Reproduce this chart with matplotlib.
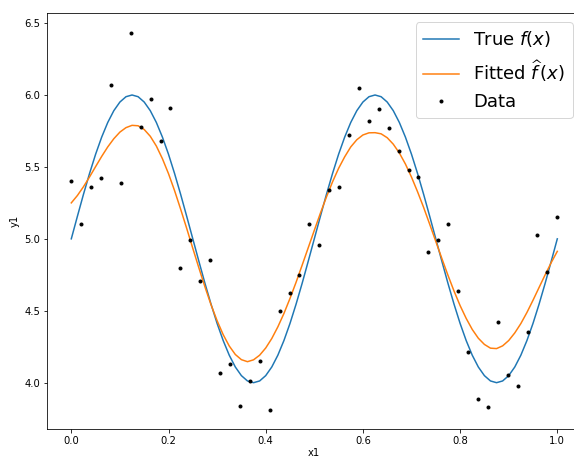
import numpy as np
import matplotlib
matplotlib.use("Agg")
import matplotlib.pyplot as plt

# Observed data points (x evenly spaced on [0, 1])
data_x = np.linspace(0, 1, 50)
data_y = [5.40, 5.10, 5.36, 5.42, 6.07, 5.39, 6.43, 5.78, 5.97, 5.68,
          5.91, 4.80, 4.99, 4.71, 4.85, 4.07, 4.13, 3.84, 4.01, 4.15,
          3.81, 4.50, 4.62, 4.75, 5.10, 4.96, 5.34, 5.36, 5.72, 6.05,
          5.82, 5.90, 5.77, 5.61, 5.48, 5.43, 4.91, 4.99, 5.10, 4.64,
          4.21, 3.89, 3.83, 4.42, 4.05, 3.98, 4.35, 5.03, 4.77, 5.15]

# Curves read on a grid of x1 (step 0.0125)
curve_x = np.linspace(0, 1, 81)
true_y = [5.000, 5.156, 5.309, 5.454, 5.588, 5.707, 5.809, 5.891, 5.951, 5.988,
          6.000, 5.988, 5.951, 5.891, 5.809, 5.707, 5.588, 5.454, 5.309, 5.156,
          5.000, 4.844, 4.691, 4.546, 4.412, 4.293, 4.191, 4.109, 4.049, 4.012,
          4.000, 4.012, 4.049, 4.109, 4.191, 4.293, 4.412, 4.546, 4.691, 4.844,
          5.000, 5.156, 5.309, 5.454, 5.588, 5.707, 5.809, 5.891, 5.951, 5.988,
          6.000, 5.988, 5.951, 5.891, 5.809, 5.707, 5.588, 5.454, 5.309, 5.156,
          5.000, 4.844, 4.691, 4.546, 4.412, 4.293, 4.191, 4.109, 4.049, 4.012,
          4.000, 4.012, 4.049, 4.109, 4.191, 4.293, 4.412, 4.546, 4.691, 4.844,
          5.000]
fitted_y = [5.250, 5.301, 5.362, 5.430, 5.502, 5.573, 5.639, 5.696, 5.742, 5.773,
            5.789, 5.786, 5.760, 5.713, 5.645, 5.557, 5.453, 5.335, 5.206, 5.072,
            4.934, 4.798, 4.666, 4.542, 4.431, 4.334, 4.255, 4.196, 4.160, 4.146,
            4.159, 4.191, 4.241, 4.307, 4.388, 4.481, 4.586, 4.698, 4.817, 4.938,
            5.059, 5.178, 5.291, 5.396, 5.490, 5.570, 5.639, 5.689, 5.722, 5.737,
            5.738, 5.730, 5.703, 5.658, 5.597, 5.520, 5.429, 5.327, 5.218, 5.101,
            4.982, 4.863, 4.747, 4.637, 4.536, 4.447, 4.370, 4.309, 4.266, 4.240,
            4.237, 4.256, 4.293, 4.346, 4.411, 4.488, 4.573, 4.662, 4.750, 4.835,
            4.913]

labels = ["True $f(x)$", r"Fitted $\widehat{f\,}(x)$", "Data"]

fig = plt.figure(figsize=(574 / 72, 458 / 72), dpi=72)
ax = fig.add_axes([47 / 574, 29 / 458, 534.6 / 574, 416 / 458])

ax.plot(curve_x, true_y, color="#1f77b4", lw=1.5, label=labels[0])
ax.plot(curve_x, fitted_y, color="#ff7f0e", lw=1.5, label=labels[1])
ax.plot(data_x, data_y, "k.", label=labels[2])

ax.set_xlabel("x1", labelpad=2)
ax.set_ylabel("y1")
ax.set_xticks([0.0, 0.2, 0.4, 0.6, 0.8, 1.0])
ax.set_yticks([4.0, 4.5, 5.0, 5.5, 6.0, 6.5])
ax.set_xlim(-0.05, 1.05)
ax.set_ylim(3.678, 6.57)
ax.legend(loc="upper right", fontsize=18)

fig.savefig("out.png", dpi=72)
